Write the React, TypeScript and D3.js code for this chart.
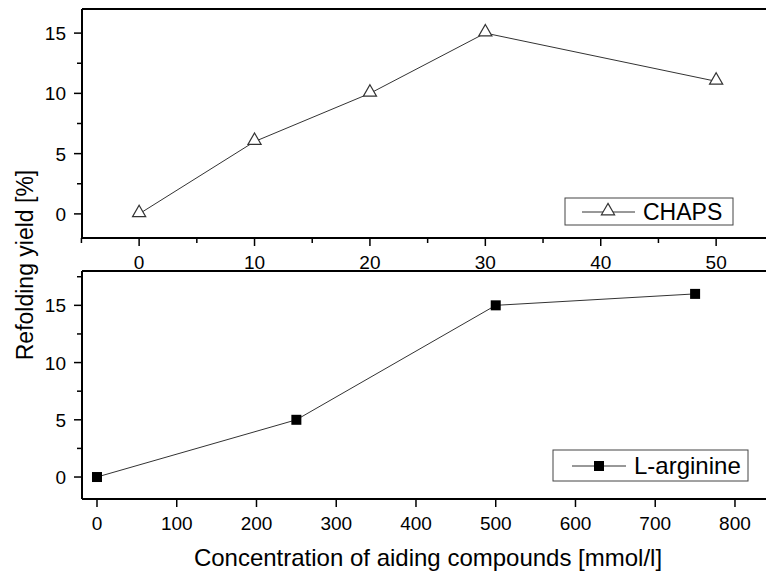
import React, { useEffect, useRef } from "react";
import * as d3 from "d3";

// CHAPS series (top panel)
const chapsConc = [0, 10, 20, 30, 50];
const chapsYield = [0, 6, 10, 15, 11];

// L-arginine series (bottom panel)
const argConc = [0, 250, 500, 750];
const argYield = [0, 5, 15, 16];

const topXTicks = [0, 10, 20, 30, 40, 50];
const topXMinor = [-5, 5, 15, 25, 35, 45, 55];
const botXTicks = [0, 100, 200, 300, 400, 500, 600, 700, 800];
const yTicks = [0, 5, 10, 15];
const yMinor = [-2.5, 2.5, 7.5, 12.5, 17.5];

const FONT = "'Liberation Sans', Arial, sans-serif";

export default function App() {
  const ref = useRef<SVGSVGElement>(null);

  useEffect(() => {
    const svg = d3.select(ref.current);
    svg.selectAll("*").remove();

    const left = 82;
    const right = 790;

    // scales
    const xTop = d3.scaleLinear().domain([-4.95, 56.4]).range([left, right]);
    const yTop = d3.scaleLinear().domain([-2, 17]).range([238, 9]);
    const xBot = d3.scaleLinear().domain([-18.8, 869]).range([left, right]);
    const yBot = d3.scaleLinear().domain([-1.92, 18]).range([499, 271]);

    const drawPanel = (x, y, xTicks, xMinor, top, bottom) => {
      const g = svg.append("g");

      // frame lines
      g.append("line")
        .attr("x1", left).attr("x2", right).attr("y1", top).attr("y2", top)
        .attr("stroke", "#000").attr("stroke-width", 2);
      g.append("line")
        .attr("x1", left).attr("x2", left).attr("y1", top).attr("y2", bottom)
        .attr("stroke", "#000").attr("stroke-width", 2);
      g.append("line")
        .attr("x1", left).attr("x2", right).attr("y1", bottom).attr("y2", bottom)
        .attr("stroke", "#000").attr("stroke-width", 2);

      // x ticks
      g.selectAll(".xt").data(xTicks).enter().append("line")
        .attr("x1", (d) => x(d)).attr("x2", (d) => x(d))
        .attr("y1", bottom).attr("y2", bottom + 8)
        .attr("stroke", "#000").attr("stroke-width", 1.5);
      g.selectAll(".xm").data(xMinor).enter().append("line")
        .attr("x1", (d) => x(d)).attr("x2", (d) => x(d))
        .attr("y1", bottom).attr("y2", bottom + 5)
        .attr("stroke", "#000").attr("stroke-width", 1.5);
      g.selectAll(".xl").data(xTicks).enter().append("text")
        .attr("x", (d) => x(d)).attr("y", bottom + 31)
        .attr("text-anchor", "middle")
        .attr("font-family", FONT).attr("font-size", 19)
        .text((d) => d);

      // y ticks
      g.selectAll(".yt").data(yTicks).enter().append("line")
        .attr("x1", left - 8).attr("x2", left)
        .attr("y1", (d) => y(d)).attr("y2", (d) => y(d))
        .attr("stroke", "#000").attr("stroke-width", 1.5);
      g.selectAll(".ym").data(yMinor.filter((d) => y(d) >= top && y(d) <= bottom)).enter().append("line")
        .attr("x1", left - 5).attr("x2", left)
        .attr("y1", (d) => y(d)).attr("y2", (d) => y(d))
        .attr("stroke", "#000").attr("stroke-width", 1.5);
      g.selectAll(".yl").data(yTicks).enter().append("text")
        .attr("x", left - 16).attr("y", (d) => y(d) + 7)
        .attr("text-anchor", "end")
        .attr("font-family", FONT).attr("font-size", 19)
        .text((d) => d);
      return g;
    };

    const gTop = drawPanel(xTop, yTop, topXTicks, topXMinor, 9, 238);
    const gBot = drawPanel(xBot, yBot, botXTicks, [], 271, 499);

    // CHAPS line + open triangles
    const chaps = chapsConc.map((c, i) => [c, chapsYield[i]]);
    gTop.append("path")
      .attr("d", d3.line().x((d) => xTop(d[0])).y((d) => yTop(d[1]))(chaps))
      .attr("fill", "none").attr("stroke", "#333").attr("stroke-width", 1);
    const tri = d3.symbol().type(d3.symbolTriangle).size(75);
    gTop.selectAll(".tri").data(chaps).enter().append("path")
      .attr("d", tri)
      .attr("transform", (d) => `translate(${xTop(d[0])},${yTop(d[1]) - 1})`)
      .attr("fill", "#fff").attr("stroke", "#333").attr("stroke-width", 1.2);

    // L-arginine line + filled squares
    const arg = argConc.map((c, i) => [c, argYield[i]]);
    gBot.append("path")
      .attr("d", d3.line().x((d) => xBot(d[0])).y((d) => yBot(d[1]))(arg))
      .attr("fill", "none").attr("stroke", "#333").attr("stroke-width", 1);
    gBot.selectAll(".sq").data(arg).enter().append("rect")
      .attr("x", (d) => xBot(d[0]) - 5).attr("y", (d) => yBot(d[1]) - 5)
      .attr("width", 10).attr("height", 10)
      .attr("fill", "#000");

    // legends
    const legTop = svg.append("g");
    legTop.append("rect").attr("x", 565).attr("y", 198).attr("width", 168).attr("height", 27)
      .attr("fill", "#fff").attr("stroke", "#444").attr("stroke-width", 1);
    legTop.append("line").attr("x1", 582).attr("x2", 635).attr("y1", 212).attr("y2", 212)
      .attr("stroke", "#333").attr("stroke-width", 1);
    legTop.append("path").attr("d", tri)
      .attr("transform", "translate(608,211)")
      .attr("fill", "#fff").attr("stroke", "#333").attr("stroke-width", 1.2);
    legTop.append("text").attr("x", 643).attr("y", 220)
      .attr("font-family", FONT).attr("font-size", 23).text("CHAPS");

    const legBot = svg.append("g");
    legBot.append("rect").attr("x", 553).attr("y", 450).attr("width", 195).attr("height", 31)
      .attr("fill", "#fff").attr("stroke", "#444").attr("stroke-width", 1);
    legBot.append("line").attr("x1", 572).attr("x2", 626).attr("y1", 466).attr("y2", 466)
      .attr("stroke", "#333").attr("stroke-width", 1);
    legBot.append("rect").attr("x", 594).attr("y", 461).attr("width", 10).attr("height", 10)
      .attr("fill", "#000");
    legBot.append("text").attr("x", 634).attr("y", 474)
      .attr("font-family", FONT).attr("font-size", 24).text("L-arginine");

    // axis titles
    svg.append("text")
      .attr("transform", "translate(33,265) rotate(-90)")
      .attr("text-anchor", "middle")
      .attr("font-family", FONT).attr("font-size", 23)
      .text("Refolding yield [%]");
    svg.append("text")
      .attr("x", 428).attr("y", 566)
      .attr("text-anchor", "middle")
      .attr("font-family", FONT).attr("font-size", 24)
      .text("Concentration of aiding compounds [mmol/l]");
  }, []);

  return (
    <svg
      ref={ref}
      width={766}
      height={576}
      style={{ position: "absolute", left: 0, top: 0, background: "#fff" }}
    />
  );
}
